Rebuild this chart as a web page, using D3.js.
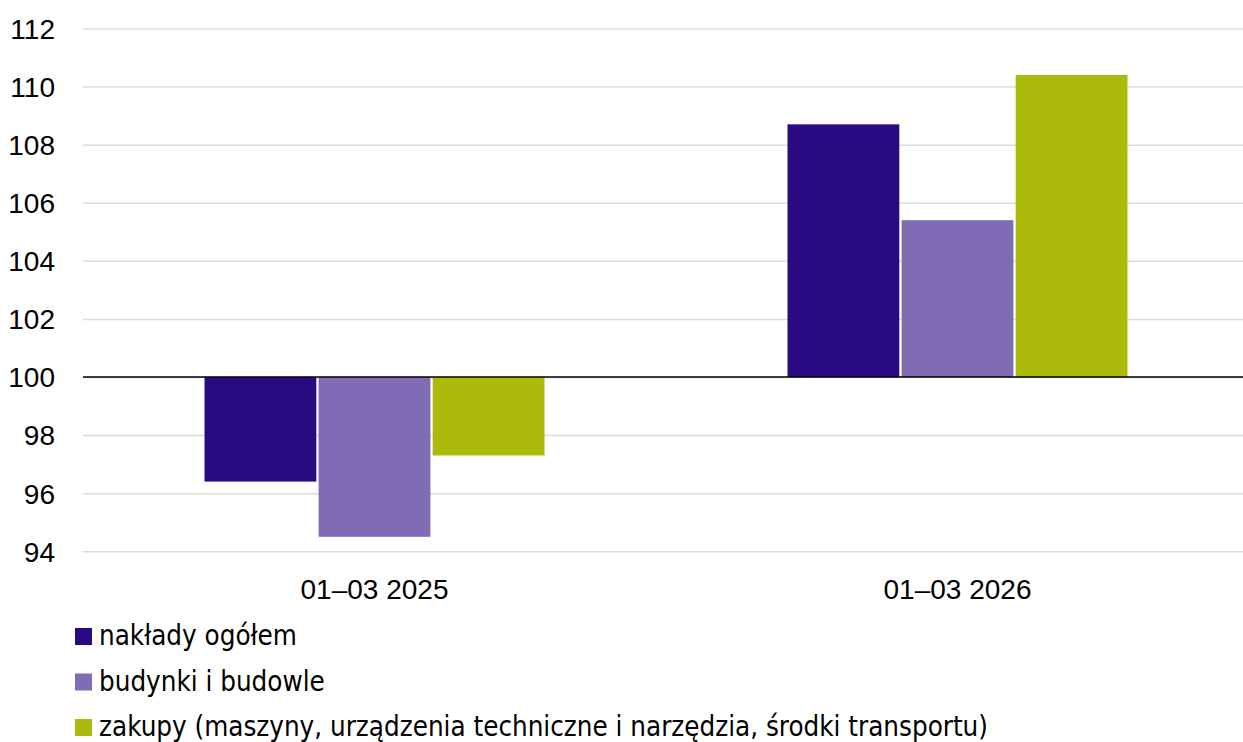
<!DOCTYPE html>
<html><head><meta charset="utf-8">
<script src="https://cdn.jsdelivr.net/npm/d3@7"></script>
<style>
html,body{margin:0;padding:0;background:#fff;}
svg text{font-family:"Liberation Sans Narrow","Arial Narrow","DejaVu Sans Condensed",sans-serif;fill:#000;}
</style></head>
<body>
<svg id="chart" width="1243" height="742"></svg>
<script>
const categories = ["01\u201303 2025", "01\u201303 2026"];
const seriesNames = ["nakłady ogółem", "budynki i budowle", "zakupy (maszyny, urządzenia techniczne i narzędzia, środki transportu)"];
const naklady = [96.4, 108.7];
const budynki = [94.5, 105.4];
const zakupy = [97.3, 110.4];
const yTicks = [94, 96, 98, 100, 102, 104, 106, 108, 110, 112];
const colors = ["#2a0a80", "#806cb4", "#abba0b"];

(function () {
const seriesValues = [naklady, budynki, zakupy];
const svg = d3.select("#chart");
const mLeft = 83, mRight = 1249, mTop = 28.5, mBottom = 551.3;
const baseVal = 100;

const y = d3.scaleLinear().domain([94, 112]).range([mBottom, mTop]);
const x0 = d3.scaleBand().domain(categories).range([mLeft, mRight]).padding(0);
const groupW = 340;
const x1 = d3.scaleBand().domain(d3.range(seriesNames.length)).range([0, groupW]).paddingInner(0.02);

// gridlines
const yAxis = d3.axisLeft(y).tickValues(yTicks).tickSize(-(1243 - mLeft)).tickFormat(d3.format("d"));
const ga = svg.append("g").attr("transform", `translate(${mLeft},0)`).call(yAxis);
ga.select(".domain").remove();
ga.selectAll(".tick line").attr("stroke", "#dcdcdc").attr("stroke-width", 1.5);
ga.selectAll(".tick text").attr("x", -28).attr("font-size", 28).attr("dy", "0.35em")
  .style("font-family", "'Liberation Sans Narrow','Arial Narrow',sans-serif");

// bars
categories.forEach((c, ci) => {
  const gx = x0(c) + (x0.bandwidth() - groupW) / 2;
  seriesValues.forEach((vals, si) => {
    const v = vals[ci];
    svg.append("rect")
      .attr("x", gx + x1(si))
      .attr("width", x1.bandwidth())
      .attr("y", y(Math.max(v, baseVal)))
      .attr("height", Math.abs(y(v) - y(baseVal)))
      .attr("fill", colors[si]);
  });
});

// baseline
svg.append("line").attr("x1", mLeft).attr("x2", 1243).attr("y1", y(baseVal)).attr("y2", y(baseVal))
  .attr("stroke", "#000").attr("stroke-width", 1.5);

// x labels
const xAxis = d3.axisBottom(x0).tickSize(0).tickPadding(0);
const gxa = svg.append("g").attr("transform", `translate(0,${mBottom})`).call(xAxis);
gxa.select(".domain").remove();
gxa.selectAll(".tick text").attr("y", 48).attr("dy", 0).attr("font-size", 28)
  .style("font-family", "'Liberation Sans Narrow','Arial Narrow',sans-serif");

// legend
const lg = svg.append("g");
seriesNames.forEach((n, i) => {
  const base = 645 + i * 45.5;
  lg.append("rect").attr("x", 75).attr("y", base - 17).attr("width", 17).attr("height", 17).attr("fill", colors[i]);
  lg.append("text").attr("x", 99).attr("y", base).attr("font-size", 27.5).text(n);
});
})();
</script>
</body></html>
